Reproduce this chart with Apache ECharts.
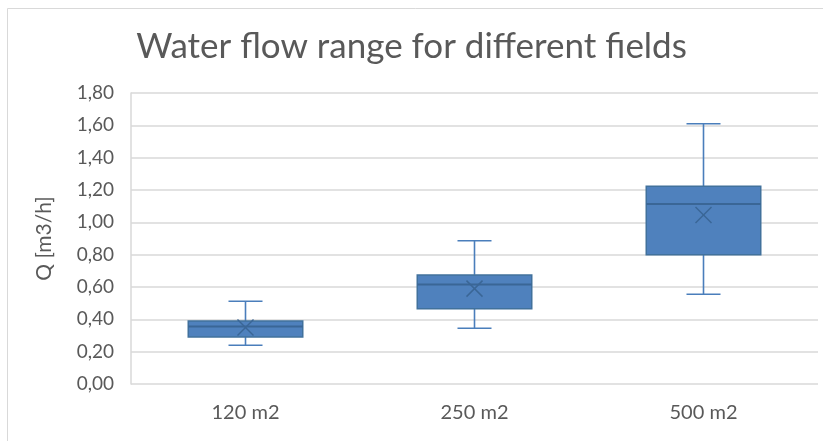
<!DOCTYPE html>
<html>
<head>
<meta charset="utf-8">
<script src="https://cdn.jsdelivr.net/npm/echarts@6/dist/echarts.min.js"></script>
<style>
html,body{margin:0;padding:0;background:#fff;}
#chart{width:823px;height:441px;}
</style>
</head>
<body>
<div id="chart"></div>
<script>
var categories = ['120 m2', '250 m2', '500 m2'];
var minVals    = [0.24, 0.345, 0.555];
var q1Vals     = [0.29, 0.465, 0.80];
var medianVals = [0.355, 0.615, 1.113];
var q3Vals     = [0.39, 0.675, 1.223];
var maxVals    = [0.512, 0.886, 1.61];
var meanVals   = [0.35, 0.59, 1.045];
var yTicks = { min: 0, max: 1.8, interval: 0.2 };

var data = categories.map(function (c, i) {
  return [i, minVals[i], q1Vals[i], medianVals[i], q3Vals[i], maxVals[i], meanVals[i]];
});

var chart = echarts.init(document.getElementById('chart'), null, { renderer: 'canvas' });
var txt = '#595959';
var font = 'Lato';

chart.setOption({
  animation: false,
  backgroundColor: '#fff',
  title: {
    text: 'Water flow range for different fields',
    left: 'center',
    top: 24,
    textStyle: { fontFamily: font, fontSize: 35, fontWeight: 'normal', color: txt }
  },
  graphic: [{
    type: 'rect',
    shape: { x: 7.5, y: 8.5, width: 830, height: 440 },
    style: { fill: 'none', stroke: '#d9d9d9', lineWidth: 1 },
    silent: true, z: -1
  }],
  grid: { left: 131, right: 5, top: 93, bottom: 57 },
  xAxis: {
    type: 'category',
    data: categories,
    axisLine: { show: false },
    axisTick: { show: false },
    axisLabel: { fontFamily: font, fontSize: 20, color: txt, margin: 19 }
  },
  yAxis: {
    type: 'value',
    min: yTicks.min, max: yTicks.max, interval: yTicks.interval,
    name: 'Q [m3/h]',
    nameLocation: 'middle',
    nameGap: 76,
    nameTextStyle: { fontFamily: font, fontSize: 21, color: txt },
    axisLine: { show: true, lineStyle: { color: '#d9d9d9', width: 1.5 } },
    axisTick: { show: false },
    splitLine: { lineStyle: { color: '#d9d9d9', width: 1.5 } },
    axisLabel: {
      fontFamily: font, fontSize: 19, color: txt, margin: 17,
      formatter: function (v) { return v.toFixed(2).replace('.', ','); }
    }
  },
  series: [{
    type: 'custom',
    data: data,
    encode: { x: 0, y: [1, 2, 3, 4, 5, 6] },
    renderItem: function (params, api) {
      var i = api.value(0);
      var pMin = api.coord([i, api.value(1)]);
      var pQ1 = api.coord([i, api.value(2)]);
      var pMed = api.coord([i, api.value(3)]);
      var pQ3 = api.coord([i, api.value(4)]);
      var pMax = api.coord([i, api.value(5)]);
      var pMean = api.coord([i, api.value(6)]);
      var bw = api.size([1, 0])[0] * 0.5;
      var cx = pMed[0];
      var cap = 17;
      var whisk = { stroke: '#4A7EBB', lineWidth: 1.6 };
      var dark = '#3A6696';
      var xs = 8;
      return {
        type: 'group',
        children: [
          { type: 'line', shape: { x1: cx, y1: pQ3[1], x2: cx, y2: pMax[1] }, style: whisk },
          { type: 'line', shape: { x1: cx - cap, y1: pMax[1], x2: cx + cap, y2: pMax[1] }, style: whisk },
          { type: 'line', shape: { x1: cx, y1: pQ1[1], x2: cx, y2: pMin[1] }, style: whisk },
          { type: 'line', shape: { x1: cx - cap, y1: pMin[1], x2: cx + cap, y2: pMin[1] }, style: whisk },
          { type: 'rect', shape: { x: cx - bw / 2, y: pQ3[1], width: bw, height: pQ1[1] - pQ3[1] },
            style: { fill: '#4F81BD', stroke: '#41719C', lineWidth: 1.5 } },
          { type: 'line', shape: { x1: cx - bw / 2, y1: pMed[1], x2: cx + bw / 2, y2: pMed[1] },
            style: { stroke: dark, lineWidth: 2 } },
          { type: 'line', shape: { x1: pMean[0] - xs, y1: pMean[1] - xs, x2: pMean[0] + xs, y2: pMean[1] + xs },
            style: { stroke: dark, lineWidth: 1.5 } },
          { type: 'line', shape: { x1: pMean[0] - xs, y1: pMean[1] + xs, x2: pMean[0] + xs, y2: pMean[1] - xs },
            style: { stroke: dark, lineWidth: 1.5 } }
        ]
      };
    }
  }]
});
</script>
</body>
</html>
